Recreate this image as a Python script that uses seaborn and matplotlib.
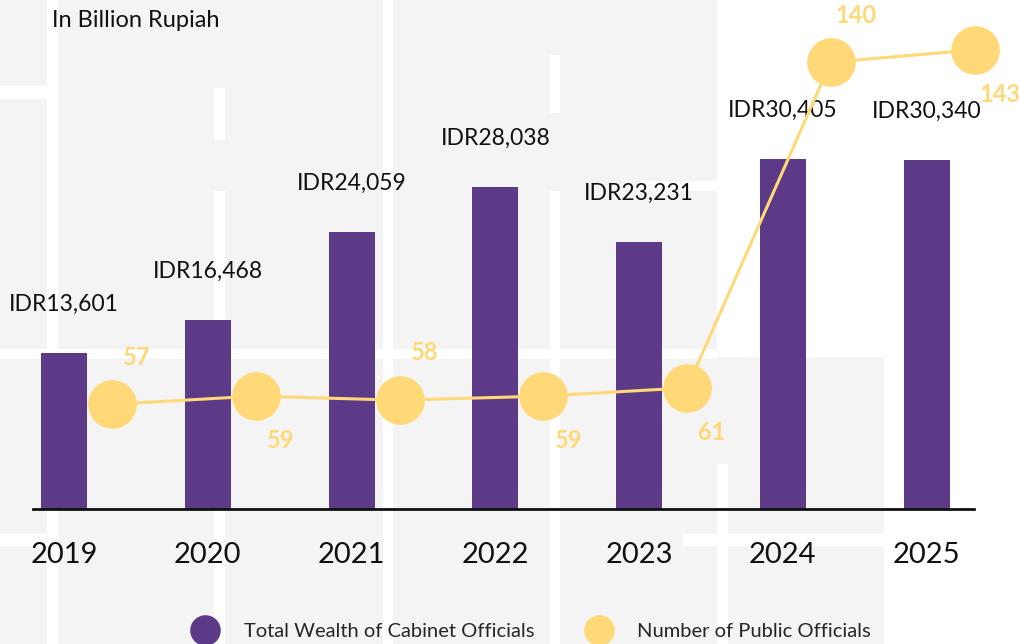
import numpy as np
import pandas as pd
import matplotlib
matplotlib.use("Agg")
import matplotlib.pyplot as plt
from matplotlib.lines import Line2D
from matplotlib.patches import Rectangle
import seaborn as sns

# data
years = ["2019", "2020", "2021", "2022", "2023", "2024", "2025"]
wealth = [13601, 16468, 24059, 28038, 23231, 30405, 30340]   # billion rupiah
officials = [57, 59, 58, 59, 61, 140, 143]
officials_above = [True, False, True, False, False, True, False]  # label placement

purple = "#5c3a87"
yellow = "#ffd978"
bg = "#f4f4f4"
ink = "#111111"

sns.set_theme(style="white")
plt.rcParams["font.family"] = ["Lato", "DejaVu Sans"]

df = pd.DataFrame({"year": years, "wealth": wealth, "officials": officials})

W, H = 1019, 644
fig = plt.figure(figsize=(W / 100, H / 100), dpi=100, facecolor=bg)

# faint watermark behind the chart: white gaps in the grey background (pixels: x, top, w, h)
gaps = [(717, 0, 302, 357), (884, 357, 135, 287), (0, 349, 717, 10),
        (47, 0, 11, 644), (383, 0, 10, 644), (214, 191, 11, 453), (214, 88, 11, 52),
        (550, 191, 10, 453), (550, 55, 10, 58), (0, 86, 47, 13), (639, 181, 78, 10),
        (683, 534, 201, 12), (717, 464, 11, 180), (0, 534, 47, 12)]
for gx, gy, gw, gh in gaps:
    fig.patches.append(Rectangle((gx / W, (H - gy - gh) / H), gw / W, gh / H,
                                 transform=fig.transFigure, facecolor="white",
                                 edgecolor="none", zorder=-10))

ax = fig.add_axes([0.0324, 0.2096, 0.9235, 0.7904])
ax.set_facecolor("none")

sns.barplot(data=df, x="year", y="wealth", color=purple, width=0.32,
            saturation=1, linewidth=0, ax=ax)
ax.set_xlim(-0.216, 6.33)
ax.set_ylim(0, 44260)

for i, v in enumerate(wealth):
    ax.annotate(f"IDR{v:,}", (i, v), xytext=(0, 35), textcoords="offset points",
                ha="center", va="center", fontsize=16.5, color=ink)

ax.set_xlabel("")
ax.set_ylabel("")
ax.set_yticks([])
ax.tick_params(axis="x", length=0, pad=24, labelsize=21, colors=ink)
for s in ["top", "left", "right"]:
    ax.spines[s].set_visible(False)
ax.spines["bottom"].set_color(ink)
ax.spines["bottom"].set_linewidth(2)

# line on a second axis, shifted right of the bars
ax2 = ax.twinx()
xline = np.arange(len(years)) + 0.334
sns.lineplot(x=xline, y=officials, color=yellow, linewidth=2.2, ax=ax2,
             marker="o", markersize=35, markeredgewidth=0, markerfacecolor=yellow,
             clip_on=False)
ax2.set_ylim(31.6, 155.1)
ax2.set_yticks([])
ax2.set_ylabel("")
for s in ax2.spines.values():
    s.set_visible(False)

for x, v, up in zip(xline, officials, officials_above):
    ax2.annotate(str(v), (x, v), xytext=(18, 34 if up else -32),
                 textcoords="offset points", ha="center", va="center",
                 fontsize=17, fontweight="bold", color=yellow, annotation_clip=False)

fig.text(0.051, 0.968, "In Billion Rupiah", fontsize=17, color=ink,
         ha="left", va="center")

handles = [
    Line2D([], [], marker="o", linestyle="", markersize=21, color=purple),
    Line2D([], [], marker="o", linestyle="", markersize=21, color=yellow),
]
fig.legend(handles, ["Total Wealth of Cabinet Officials", "Number of Public Officials"],
           loc="center", bbox_to_anchor=(0.518, 0.02), ncol=2, frameon=False,
           fontsize=14.5, handletextpad=0.9, columnspacing=2.2)

fig.savefig("out.png", dpi=100, facecolor=bg)
